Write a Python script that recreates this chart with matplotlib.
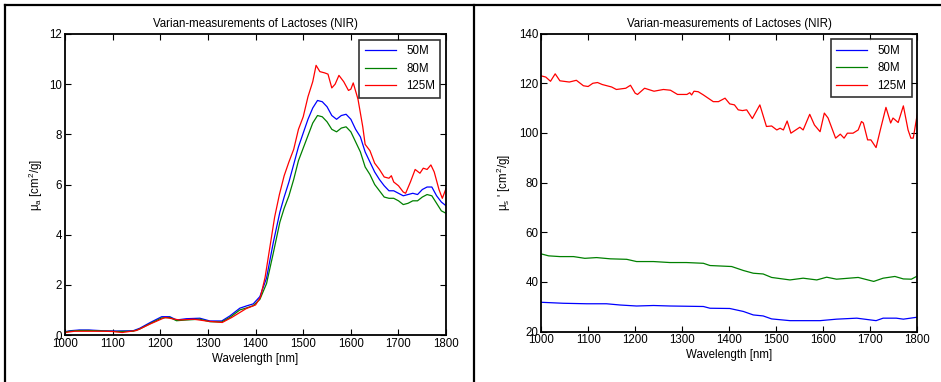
import matplotlib
matplotlib.use("Agg")
import matplotlib.pyplot as plt
from matplotlib.lines import Line2D

plt.rcParams['font.family'] = ['Liberation Sans', 'DejaVu Sans']
plt.rcParams['font.size'] = 8.3
plt.rcParams['mathtext.fontset'] = 'custom'
plt.rcParams['mathtext.rm'] = 'Liberation Sans'
plt.rcParams['mathtext.it'] = 'Liberation Sans'
plt.rcParams['mathtext.sf'] = 'Liberation Sans'

# %% Data
title = "Varian-measurements of Lactoses (NIR)"
labels = ["50M", "80M", "125M"]
colors = ["#0000ff", "#008000", "#ff0000"]

# absorption, 50M and 80M share a grid
wl_abs = [1000, 1010, 1030, 1050, 1080, 1108, 1143, 1157, 1178, 1203, 1220, 1234, 1255, 1283,
          1304, 1329, 1346, 1367, 1381, 1395, 1409, 1423, 1437, 1451, 1460, 1470, 1480, 1490,
          1500, 1510, 1520, 1530, 1540, 1550, 1560, 1570, 1580, 1590, 1600, 1610, 1620, 1630,
          1640, 1650, 1660, 1670, 1680, 1690, 1700, 1710, 1720, 1730, 1740, 1750, 1760, 1770,
          1780, 1790, 1800]
mua_50 = [0.13, 0.17, 0.2, 0.2, 0.17, 0.16, 0.17, 0.27, 0.49, 0.73, 0.73, 0.6, 0.65, 0.67,
          0.56, 0.56, 0.76, 1.07, 1.16, 1.24, 1.53, 2.27, 3.67, 4.9, 5.5, 6.1, 6.8, 7.5,
          8.05, 8.6, 9.05, 9.35, 9.3, 9.1, 8.75, 8.6, 8.75, 8.8, 8.6, 8.2, 7.9, 7.3,
          6.9, 6.5, 6.2, 5.95, 5.75, 5.75, 5.65, 5.55, 5.6, 5.65, 5.6, 5.8, 5.9, 5.9,
          5.55, 5.3, 5.15]
mua_80 = [0.12, 0.15, 0.18, 0.18, 0.16, 0.14, 0.15, 0.24, 0.45, 0.68, 0.7, 0.57, 0.6, 0.63,
          0.53, 0.52, 0.7, 1.0, 1.08, 1.17, 1.42, 2.05, 3.25, 4.5, 5.05, 5.55, 6.2, 6.95,
          7.45, 7.95, 8.45, 8.75, 8.7, 8.5, 8.2, 8.1, 8.25, 8.3, 8.1, 7.7, 7.3, 6.7,
          6.4, 6.0, 5.75, 5.5, 5.45, 5.45, 5.35, 5.2, 5.25, 5.35, 5.35, 5.5, 5.6, 5.55,
          5.25, 4.95, 4.85]

wl_abs_125 = [1000, 1020, 1050, 1080, 1100, 1120, 1150, 1180, 1210, 1240, 1270, 1300, 1330,
              1350, 1380, 1400, 1410, 1420, 1430, 1440, 1450, 1460, 1470, 1480, 1490, 1500,
              1510, 1520, 1527, 1535, 1545, 1552, 1560, 1567, 1575, 1585, 1595, 1600, 1605,
              1615, 1625, 1630, 1640, 1650, 1660, 1670, 1680, 1685, 1690, 1700, 1710, 1715,
              1725, 1735, 1745, 1752, 1760, 1768, 1775, 1785, 1792, 1800]
mua_125 = [0.1, 0.15, 0.15, 0.15, 0.14, 0.1, 0.18, 0.45, 0.7, 0.6, 0.63, 0.55, 0.5,
           0.7, 1.05, 1.2, 1.5, 2.3, 3.5, 4.7, 5.6, 6.35, 6.9, 7.4, 8.2, 8.7,
           9.5, 10.1, 10.75, 10.5, 10.45, 10.4, 9.85, 10.0, 10.35, 10.1, 9.75, 9.8, 10.05,
           9.4, 8.3, 7.6, 7.35, 6.85, 6.6, 6.3, 6.25, 6.35, 6.1, 5.95, 5.7, 5.65,
           6.1, 6.6, 6.45, 6.65, 6.6, 6.78, 6.5, 5.8, 5.45, 5.85]

# reduced scattering
wl_sc_50 = [1000, 1047, 1097, 1139, 1168, 1203, 1239, 1274, 1345, 1359, 1401, 1430, 1451,
            1472, 1490, 1529, 1593, 1628, 1671, 1712, 1727, 1755, 1770, 1800]
mus_50 = [31.8, 31.4, 31.2, 31.2, 30.7, 30.3, 30.5, 30.3, 30.1, 29.4, 29.3, 28.1, 26.7,
          26.3, 25.1, 24.4, 24.4, 25.0, 25.4, 24.4, 25.4, 25.4, 25.0, 25.8]

wl_sc_80 = [1000, 1016, 1040, 1069, 1093, 1118, 1147, 1182, 1203, 1239, 1274, 1309, 1345,
            1359, 1405, 1430, 1451, 1472, 1490, 1529, 1557, 1586, 1607, 1628, 1674, 1707,
            1727, 1752, 1770, 1787, 1800]
mus_80 = [51.3, 50.5, 50.2, 50.2, 49.5, 49.8, 49.3, 49.1, 48.2, 48.2, 47.8, 47.8, 47.5,
          46.6, 46.2, 44.6, 43.5, 43.2, 41.8, 40.8, 41.5, 40.8, 41.9, 41.1, 41.8, 40.2,
          41.5, 42.2, 41.2, 41.1, 42.4]

wl_sc_125 = [1000, 1010, 1020, 1030, 1040, 1060, 1075, 1090, 1100, 1110, 1120, 1130, 1150,
             1160, 1180, 1190, 1200, 1205, 1220, 1240, 1260, 1275, 1290, 1310, 1316, 1320,
             1325, 1334, 1345, 1366, 1377, 1391, 1401, 1411, 1419, 1428, 1437, 1449, 1465,
             1479, 1490, 1501, 1508, 1515, 1523, 1531, 1550, 1557, 1571, 1581, 1593, 1602,
             1610, 1626, 1636, 1644, 1651, 1663, 1674, 1681, 1685, 1694, 1701, 1712, 1721,
             1733, 1743, 1748, 1759, 1770, 1780, 1786, 1791, 1800]
mus_125 = [123, 122.5, 120.8, 123.8, 121, 120.5, 121.2, 119, 118.7, 120, 120.3, 119.5, 118.5,
           117.5, 118, 119.2, 116, 115.5, 118, 116.8, 117.5, 117.2, 115.5, 115.5, 116.2, 115.3,
           116.8, 116.6, 115.3, 112.6, 112.6, 114, 111.7, 111.3, 109.3, 109, 109.3, 105.8, 111.3,
           102.6, 102.8, 101.2, 101.9, 101.2, 104.8, 99.9, 102.3, 101.2, 107.5, 103.2, 100.5, 108,
           106, 97.9, 99.5, 97.9, 99.9, 99.9, 101.2, 104.6, 104, 97.2, 97.2, 94.1, 101.2,
           110.3, 104, 106, 104.2, 110.9, 101.2, 97.9, 97.9, 108]

# %% Plot
fig = plt.figure(figsize=(9.41, 3.82), dpi=100)
ax1 = fig.add_axes([0.0691, 0.123, 0.405, 0.788])
ax2 = fig.add_axes([0.575, 0.132, 0.400, 0.780])

ax1.plot(wl_abs, mua_50, color=colors[0], lw=0.9, label=labels[0])
ax1.plot(wl_abs, mua_80, color=colors[1], lw=0.9, label=labels[1])
ax1.plot(wl_abs_125, mua_125, color=colors[2], lw=0.9, label=labels[2])
ax1.set_ylim(0, 12)
ax1.set_yticks(range(0, 13, 2))
ax1.set_ylabel(r'$\mu_a$ [cm$^2$/g]', labelpad=3)

ax2.plot(wl_sc_50, mus_50, color=colors[0], lw=0.9, label=labels[0])
ax2.plot(wl_sc_80, mus_80, color=colors[1], lw=0.9, label=labels[1])
ax2.plot(wl_sc_125, mus_125, color=colors[2], lw=0.9, label=labels[2])
ax2.set_ylim(20, 140)
ax2.set_yticks(range(20, 141, 20))
ax2.set_ylabel(r"$\mu_s$ ' [cm$^2$/g]", labelpad=4)

for ax in (ax1, ax2):
    ax.set_xlim(1000, 1800)
    ax.set_xticks(range(1000, 1801, 100))
    ax.set_xlabel('Wavelength [nm]', labelpad=2)
    ax.set_title(title, fontsize=8.3, pad=5)
    ax.tick_params(direction='in', top=True, right=True, length=4, width=0.8, pad=2)
    for sp in ax.spines.values():
        sp.set_linewidth(1.3)
    leg = ax.legend(loc='upper right', fancybox=False, edgecolor='black',
                    handlelength=2.7, labelspacing=0.5, borderaxespad=0.5,
                    handletextpad=0.9, borderpad=0.45)
    leg.get_frame().set_linewidth(1.2)

# frame lines around the two panels
H = 382.0
W = 941.0
fig.add_artist(Line2D([5 / W, 1], [1 - 5 / H, 1 - 5 / H], color='black', lw=1.6))
fig.add_artist(Line2D([5 / W, 5 / W], [0, 1 - 5 / H], color='black', lw=1.6))
fig.add_artist(Line2D([474 / W, 474 / W], [0, 1 - 5 / H], color='black', lw=1.6))

fig.savefig('out.png', dpi=100)
